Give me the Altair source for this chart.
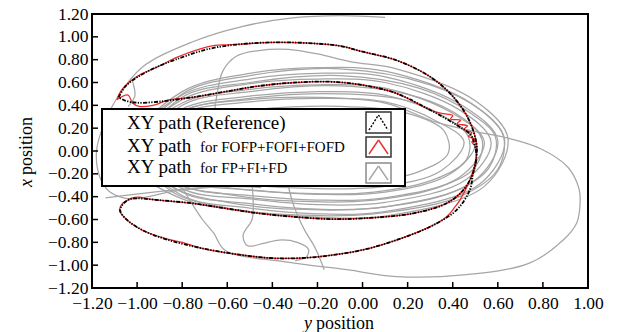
import altair as alt
import pandas as pd

# ---------------- tick positions ----------------
x_ticks = [-1.2, -1.0, -0.8, -0.6, -0.4, -0.2, 0.0, 0.2, 0.4, 0.6, 0.8, 1.0]
y_ticks = [-1.2, -1.0, -0.8, -0.6, -0.4, -0.2, 0.0, 0.2, 0.4, 0.6, 0.8, 1.0, 1.2]

# ---------------- reference XY path (y position, x position) ----------------
ref_path = [
    (-1.082, 0.47), (-1.05, 0.57), (-1.0, 0.645), (-0.93, 0.72), (-0.83, 0.80),
    (-0.68, 0.895), (-0.535, 0.937), (-0.387, 0.952), (-0.24, 0.945), (-0.1, 0.92),
    (0.0, 0.87), (0.15, 0.795), (0.30, 0.65), (0.40, 0.48), (0.47, 0.28),
    (0.505, 0.07), (0.505, -0.05), (0.49, -0.2), (0.476, -0.34), (0.417, -0.517),
    (0.30, -0.663), (0.15, -0.78), (0.0, -0.867), (-0.145, -0.915), (-0.24, -0.934),
    (-0.387, -0.94), (-0.535, -0.911), (-0.712, -0.852), (-0.86, -0.78), (-0.978, -0.692),
    (-1.052, -0.59), (-1.075, -0.52), (-1.06, -0.46), (-1.03, -0.42), (-1.0, -0.415),
    (-0.904, -0.43), (-0.756, -0.458), (-0.609, -0.502), (-0.461, -0.546), (-0.313, -0.575),
    (-0.145, -0.596), (0.0, -0.59), (0.225, -0.546), (0.373, -0.458), (0.447, -0.342),
    (0.49, -0.195), (0.505, -0.05), (0.495, 0.07), (0.48, 0.14), (0.417, 0.228),
    (0.30, 0.359), (0.15, 0.505), (0.0, 0.578), (-0.145, 0.607), (-0.313, 0.598),
    (-0.461, 0.569), (-0.609, 0.52), (-0.756, 0.47), (-0.904, 0.432), (-1.0, 0.423),
    (-1.05, 0.44), (-1.082, 0.47),
]

# ---------------- XY path for FOFP+FOFI+FOFD ----------------
fo_path = [
    (-1.09, 0.45), (-1.07, 0.53), (-1.03, 0.61), (-0.98, 0.675), (-0.90, 0.745),
    (-0.83, 0.815), (-0.72, 0.895), (-0.655, 0.925), (-0.6, 0.93), (-0.535, 0.937),
    (-0.387, 0.952), (-0.24, 0.945), (-0.1, 0.92), (0.0, 0.87), (0.15, 0.795),
    (0.30, 0.65), (0.40, 0.48), (0.47, 0.28), (0.505, 0.07), (0.505, -0.05),
    (0.476, -0.254), (0.432, -0.43), (0.41, -0.49), (0.373, -0.575), (0.30, -0.663),
    (0.15, -0.78), (0.0, -0.867), (-0.145, -0.915), (-0.24, -0.934), (-0.387, -0.94),
    (-0.535, -0.911), (-0.712, -0.852), (-0.80, -0.80), (-0.86, -0.775), (-0.978, -0.692),
    (-1.052, -0.59), (-1.078, -0.52), (-1.065, -0.46), (-1.04, -0.43), (-1.02, -0.41),
    (-0.99, -0.405), (-0.95, -0.42), (-0.904, -0.43), (-0.756, -0.458), (-0.609, -0.502),
    (-0.461, -0.546), (-0.313, -0.575), (-0.145, -0.596), (0.0, -0.59), (0.225, -0.546),
    (0.373, -0.458), (0.447, -0.342), (0.49, -0.195), (0.505, -0.05), (0.50, 0.04),
    (0.485, 0.08), (0.50, 0.10), (0.47, 0.13), (0.485, 0.16), (0.45, 0.19),
    (0.465, 0.22), (0.42, 0.24), (0.435, 0.27), (0.39, 0.28), (0.40, 0.31),
    (0.35, 0.33), (0.30, 0.359), (0.15, 0.505), (0.0, 0.578), (-0.145, 0.607),
    (-0.313, 0.598), (-0.461, 0.569), (-0.609, 0.52), (-0.756, 0.47), (-0.86, 0.447),
    (-0.93, 0.40), (-0.99, 0.39), (-1.02, 0.42), (-1.04, 0.49), (-1.09, 0.45),
]

# ---------------- XY path for FP+FI+FD (several stretches) ----------------
fp_sweep = [
    (0.10, 1.17), (-0.10, 1.185), (-0.31, 1.165), (-0.535, 1.09), (-0.756, 0.955),
    (-0.98, 0.73), (-1.09, 0.46), (-1.15, 0.22), (-1.18, 0.0), (-1.165, -0.23),
    (-1.12, -0.36), (-1.03, -0.42), (-0.83, -0.35), (-0.61, -0.31), (-0.3, -0.30),
    (0.0, -0.28), (0.25, -0.18), (0.38, -0.02), (0.36, 0.18), (0.2, 0.33),
    (-0.1, 0.39), (-0.5, 0.36), (-0.8, 0.28), (-0.98, 0.08),
    (-0.8, -0.22), (-0.5, -0.30), (-0.2, -0.33), (0.1, -0.31), (0.35, -0.17),
    (0.45, 0.08), (0.32, 0.27), (0.1, 0.43), (-0.2, 0.46), (-0.5, 0.43),
    (-0.8, 0.33), (-0.97, 0.04),
    (-0.8, -0.26), (-0.5, -0.34), (-0.2, -0.38), (0.1, -0.36), (0.39, -0.20),
    (0.50, 0.07), (0.36, 0.30), (0.1, 0.49), (-0.2, 0.52), (-0.5, 0.48),
    (-0.8, 0.37), (-0.98, 0.05),
    (-0.8, -0.30), (-0.5, -0.39), (-0.2, -0.43), (0.1, -0.41), (0.43, -0.23),
    (0.54, 0.08), (0.40, 0.33), (0.1, 0.55), (-0.2, 0.58), (-0.5, 0.54),
    (-0.8, 0.42), (-1.0, 0.06),
    (-0.8, -0.33), (-0.5, -0.42), (-0.2, -0.47), (0.1, -0.45), (0.46, -0.25),
    (0.57, 0.08), (0.43, 0.36), (0.1, 0.60), (-0.2, 0.63), (-0.5, 0.59),
    (-0.8, 0.45), (-1.0, 0.05),
    (-0.8, -0.36), (-0.5, -0.46), (-0.2, -0.51), (0.1, -0.49), (0.49, -0.27),
    (0.60, 0.09), (0.45, 0.39), (0.1, 0.65), (-0.2, 0.68), (-0.5, 0.63),
    (-0.8, 0.49), (-1.02, 0.06),
    (-0.8, -0.39), (-0.5, -0.50), (-0.2, -0.55), (0.1, -0.53), (0.52, -0.29),
    (0.63, 0.10), (0.48, 0.42), (0.1, 0.70), (-0.2, 0.73), (-0.5, 0.68),
    (-0.8, 0.52), (-1.03, 0.05), (-0.85, -0.10), (-0.66, 0.30),
]

fp_tilted = [
    (-0.95, 0.0), (-0.8, 0.34), (-0.5, 0.46), (-0.1, 0.50), (0.2, 0.44),
    (0.38, 0.28), (0.47, 0.12), (0.46, -0.08), (0.33, -0.24), (0.05, -0.36),
    (-0.3, -0.37), (-0.6, -0.32), (-0.85, -0.22), (-0.97, 0.0),
    (-0.8, 0.40), (-0.5, 0.52), (-0.1, 0.57), (0.25, 0.47), (0.45, 0.28),
    (0.53, 0.10), (0.50, -0.14), (0.35, -0.31), (0.05, -0.43), (-0.3, -0.44),
    (-0.6, -0.38), (-0.85, -0.27), (-0.99, 0.0),
    (-0.8, 0.47), (-0.5, 0.60), (-0.1, 0.66), (0.25, 0.55), (0.48, 0.33),
    (0.59, 0.12), (0.56, -0.15), (0.40, -0.36), (0.05, -0.50), (-0.3, -0.51),
    (-0.6, -0.45), (-0.85, -0.31), (-1.0, 0.0),
    (-0.8, 0.50), (-0.5, 0.66), (-0.1, 0.72), (0.3, 0.58), (0.53, 0.35),
    (0.625, 0.13), (0.60, -0.16), (0.43, -0.40), (0.05, -0.55), (-0.3, -0.56),
    (-0.6, -0.50), (-0.85, -0.35), (-1.0, 0.0),
]

fp_arch = [
    (-0.66, 0.30), (-0.645, 0.50), (-0.62, 0.70), (-0.56, 0.83), (-0.46, 0.88),
    (-0.33, 0.89), (-0.2, 0.85), (-0.05, 0.78), (0.15, 0.72), (0.50, 0.44),
    (0.645, 0.11), (0.54, -0.31), (0.1, -0.57), (-0.2, -0.58), (-0.5, -0.53),
    (-0.8, -0.42), (-1.0, -0.15), (-0.95, 0.05), (-0.8, 0.35), (-0.5, 0.45),
    (-0.2, 0.47), (0.1, 0.42), (0.33, 0.25), (0.50, 0.17), (0.64, 0.115),
    (0.79, 0.02), (0.91, -0.14), (0.96, -0.33), (0.964, -0.49), (0.95, -0.63),
    (0.89, -0.78), (0.743, -0.98), (0.447, -1.086), (0.151, -1.10), (-0.07, -1.04),
    (-0.35, -0.97), (-0.61, -0.87), (-0.66, -0.72), (-0.71, -0.60), (-0.76, -0.45),
    (-0.80, -0.32),
]

fp_wiggle_a = [
    (-0.49, -0.30), (-0.485, -0.45), (-0.49, -0.60), (-0.53, -0.74), (-0.51, -0.83),
    (-0.44, -0.81), (-0.37, -0.78), (-0.29, -0.80), (-0.24, -0.86), (-0.25, -0.93),
    (-0.30, -0.96),
]

fp_wiggle_b = [
    (-0.33, -0.30), (-0.31, -0.45), (-0.28, -0.60), (-0.255, -0.70), (-0.21, -0.85),
    (-0.17, -1.04),
]

fp_wiggle_c = [
    (-1.14, -0.41), (-0.83, -0.34), (-0.61, -0.31), (-0.45, -0.32),
]

fp_left = [
    (-1.02, 0.61), (-1.01, 0.48), (-1.04, 0.39),
]


def frame(points, seg):
    return pd.DataFrame({
        "ypos": [p[0] for p in points],
        "xpos": [p[1] for p in points],
        "i": list(range(len(points))),
        "seg": seg,
    })


ref_df = frame(ref_path, "ref")
fo_df = frame(fo_path, "fo")
fp_df = pd.concat([
    frame(fp_sweep, "a"), frame(fp_arch, "b"), frame(fp_wiggle_a, "c"),
    frame(fp_wiggle_b, "d"), frame(fp_wiggle_c, "e"), frame(fp_left, "f"),
    frame(fp_tilted, "g"),
], ignore_index=True)

SERIF = "Liberation Serif"

x_scale = alt.Scale(domain=[-1.2, 1.0], nice=False, zero=False)
y_scale = alt.Scale(domain=[-1.2, 1.2], nice=False, zero=False)
x_axis = alt.Axis(values=x_ticks, format=".2f", title=None, grid=False, domain=False,
                  ticks=False, labelFont=SERIF, labelFontSize=17.5, labelColor="black",
                  labelPadding=6, labelFlush=False, labelOverlap=False)
y_axis = alt.Axis(values=y_ticks, format=".2f", title=None, grid=False, domain=False,
                  ticks=False, labelFont=SERIF, labelFontSize=17.5, labelColor="black",
                  labelPadding=4, labelFlush=False, labelOverlap=False)

X = alt.X("ypos:Q", scale=x_scale, axis=x_axis)
Y = alt.Y("xpos:Q", scale=y_scale, axis=y_axis)


def path_layer(df, color, width, dash=None):
    kw = dict(interpolate="catmull-rom", color=color, strokeWidth=width)
    if dash:
        kw["strokeDash"] = dash
    return alt.Chart(df).mark_line(**kw).encode(
        x=X, y=Y, detail="seg:N", order="i:Q")


gray_layer = path_layer(fp_df, "#a6a6a6", 1.25)
red_layer = path_layer(fo_df, "#ee2c2c", 1.3)
black_layer = path_layer(ref_df, "#000000", 1.8, [4, 1.4, 1.3, 1.4, 1.3, 1.4])

# inward tick marks on the bottom and left edges
xt_df = pd.DataFrame({"ypos": x_ticks})
yt_df = pd.DataFrame({"xpos": y_ticks})
x_tick_layer = alt.Chart(xt_df).mark_rule(color="black", strokeWidth=1.5).encode(
    x=X, y=alt.value(274), y2=alt.value(268))
y_tick_layer = alt.Chart(yt_df).mark_rule(color="black", strokeWidth=1.5).encode(
    y=Y, x=alt.value(0), x2=alt.value(6))

one = pd.DataFrame({"k": [0]})


def label(txt, x, y, size, angle=0, style="normal"):
    kw = dict(font=SERIF, fontSize=size, color="black", align="left",
              baseline="alphabetic", fontStyle=style)
    if angle:
        kw["angle"] = angle
    return alt.Chart(one).mark_text(**kw).encode(
        x=alt.value(x), y=alt.value(y), text=alt.value(txt))


def seg_rule(x1, y1, x2, y2, color, width=1.5, dash=None):
    kw = dict(color=color, strokeWidth=width)
    if dash:
        kw["strokeDash"] = dash
    return alt.Chart(one).mark_rule(**kw).encode(
        x=alt.value(x1), y=alt.value(y1), x2=alt.value(x2), y2=alt.value(y2))


def box(x1, y1, x2, y2, stroke, width):
    return alt.Chart(one).mark_rect(fill="white", stroke=stroke, strokeWidth=width).encode(
        x=alt.value(x1), y=alt.value(y1), x2=alt.value(x2), y2=alt.value(y2))


legend_layers = [box(10, 95, 313, 172, "black", 2)]
icon_rows = [(98, 119, "black", [2, 1.5], "#333333"),
             (123, 143, "#ee2c2c", None, "#333333"),
             (149, 169, "#a6a6a6", None, "#8a8a8a")]
for top, bottom, col, dash, frame_col in icon_rows:
    legend_layers.append(box(274, top, 299, bottom, frame_col, 1.5))
    legend_layers.append(seg_rule(277, bottom - 3, 286.5, top + 3, col, 1.4, dash))
    legend_layers.append(seg_rule(286.5, top + 3, 296, bottom - 3, col, 1.4, dash))

legend_layers += [
    label("XY path (Reference)", 35, 115, 19),
    label("XY path", 35, 138, 19),
    label("for FOFP+FOFI+FOFD", 108, 138, 15),
    label("XY path", 35, 159, 19),
    label("for FP+FI+FD", 108, 159, 15),
]

title_layers = [
    label("y", 212, 315, 18, style="italic"),
    label("position", 224, 315, 18),
    label("x", -60, 173, 18, angle=270, style="italic"),
    label("position", -60, 161, 18, angle=270),
]

chart = alt.layer(
    gray_layer, red_layer, black_layer, x_tick_layer, y_tick_layer,
    *legend_layers, *title_layers,
).properties(
    width=496, height=274,
    autosize=alt.AutoSizeParams(type="none"),
    padding={"left": 92, "top": 14, "right": 31, "bottom": 44},
    background="white",
).configure_view(stroke="black", strokeWidth=2)

chart.save("out.html", embed_options={"renderer": "svg", "actions": False})
